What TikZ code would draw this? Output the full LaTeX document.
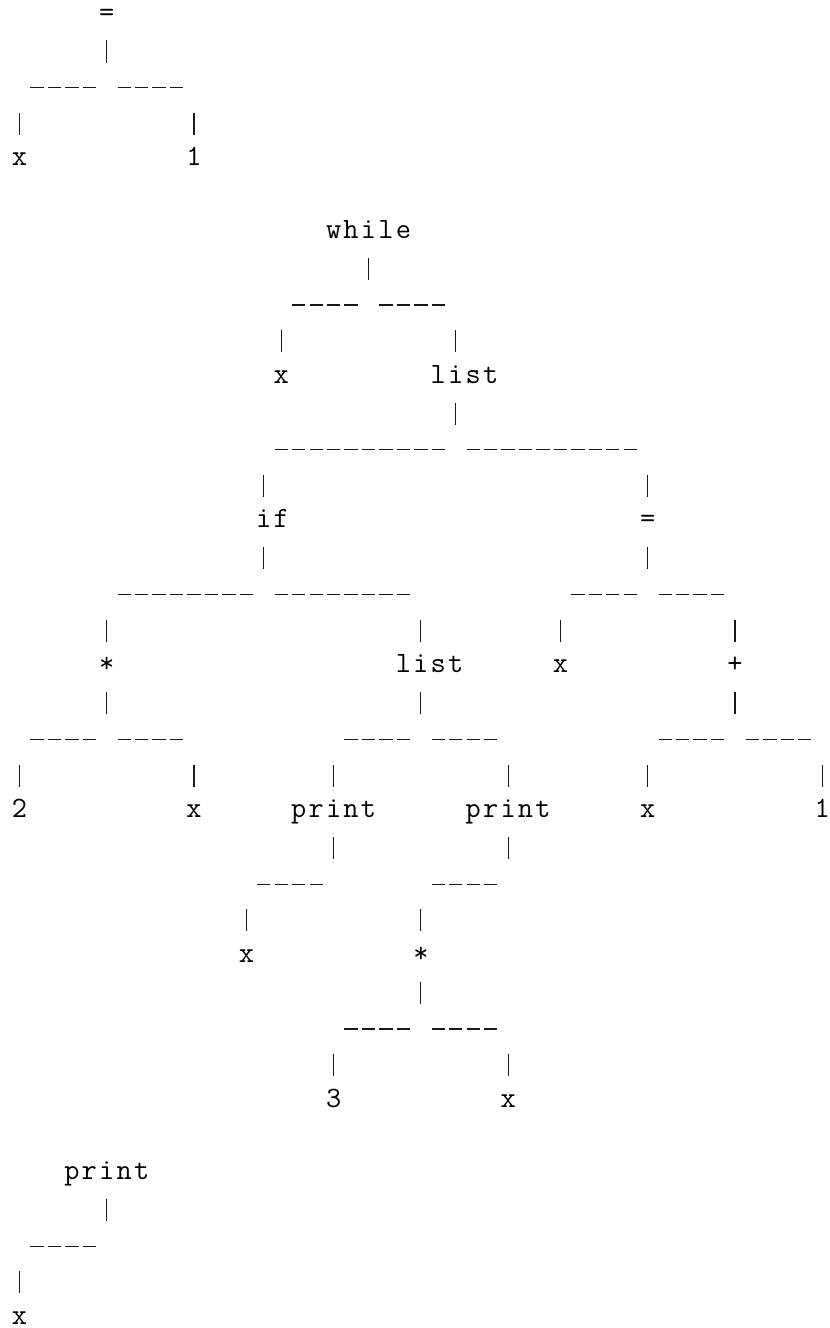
\documentclass[tikz,border=0pt]{standalone}
\usetikzlibrary{calc}
\newcommand\spreadchars[1]{\spreadaux#1\relax}
\def\spreadaux#1{\ifx\relax#1\else\makebox[17.45pt][c]{#1}\expandafter\spreadaux\fi}
\tikzset{
  lbl/.style={inner sep=0pt, outer sep=0pt, anchor=base west, font=\fontsize{29.5}{34}\selectfont\ttfamily},
  stemline/.style={line width=1.2pt, draw=black!90},
  dashrule/.style={line width=1.2pt, draw=black!90, dash pattern=on 13.3pt off 4.15pt},
}
% name, text, start column, connector column, row
\newcommand\lbl[5]{%
  \coordinate (#1) at (#4,#5);
  \node[lbl] (#1t) at ($(#3,#5)+(-0.5,0.16)$) {\spreadchars{#2}};
}
\newcommand\stem[1]{\draw[stemline] ($(#1)+(0,0.696)$) -- ($(#1)+(0,1.304)$);}
\newcommand\branch[2]{%
  \coordinate (tmpp) at (#1);
  \coordinate (tmpc) at (#2 |- #1);
  \draw[dashrule] ($(tmpp)!10.8pt!(tmpc)+(0,2)$) -- ($(tmpc)!10.8pt!(tmpp)+(0,2)$);
  \draw[stemline] ($(#2)+(0,-1.304)$) -- ($(#2)+(0,-0.696)$);
}
\begin{document}
\begin{tikzpicture}
\useasboundingbox (0,0) rectangle (830pt,-1328pt);
\begin{scope}[shift={(19.5pt,-15.3pt)}, x=17.45pt, y=-36.2pt]
% tree 1
\lbl{A0}{=}{5}{5}{0}
\lbl{A1}{x}{0}{0}{4}
\lbl{A2}{1}{10}{10}{4}
\stem{A0}
\branch{A0}{A1}
\branch{A0}{A2}
% tree 2
\lbl{B0}{while}{18}{20}{6}
\lbl{B1}{x}{15}{15}{10}
\lbl{B2}{list}{24}{25}{10}
\lbl{B3}{if}{14}{14}{14}
\lbl{B4}{=}{36}{36}{14}
\lbl{B5}{*}{5}{5}{18}
\lbl{B6}{list}{22}{23}{18}
\lbl{B7}{x}{31}{31}{18}
\lbl{B8}{+}{41}{41}{18}
\lbl{B9}{2}{0}{0}{22}
\lbl{B10}{x}{10}{10}{22}
\lbl{B11}{print}{16}{18}{22}
\lbl{B12}{print}{26}{28}{22}
\lbl{B13}{x}{36}{36}{22}
\lbl{B14}{1}{46}{46}{22}
\lbl{B15}{x}{13}{13}{26}
\lbl{B16}{*}{23}{23}{26}
\lbl{B17}{3}{18}{18}{30}
\lbl{B18}{x}{28}{28}{30}
\stem{B0}\branch{B0}{B1}\branch{B0}{B2}
\stem{B2}\branch{B2}{B3}\branch{B2}{B4}
\stem{B3}\branch{B3}{B5}\branch{B3}{B6}
\stem{B4}\branch{B4}{B7}\branch{B4}{B8}
\stem{B5}\branch{B5}{B9}\branch{B5}{B10}
\stem{B6}\branch{B6}{B11}\branch{B6}{B12}
\stem{B8}\branch{B8}{B13}\branch{B8}{B14}
\stem{B11}\branch{B11}{B15}
\stem{B12}\branch{B12}{B16}
\stem{B16}\branch{B16}{B17}\branch{B16}{B18}
% tree 3
\lbl{C0}{print}{3}{5}{32}
\lbl{C1}{x}{0}{0}{36}
\stem{C0}\branch{C0}{C1}
\end{scope}
\end{tikzpicture}
\end{document}
